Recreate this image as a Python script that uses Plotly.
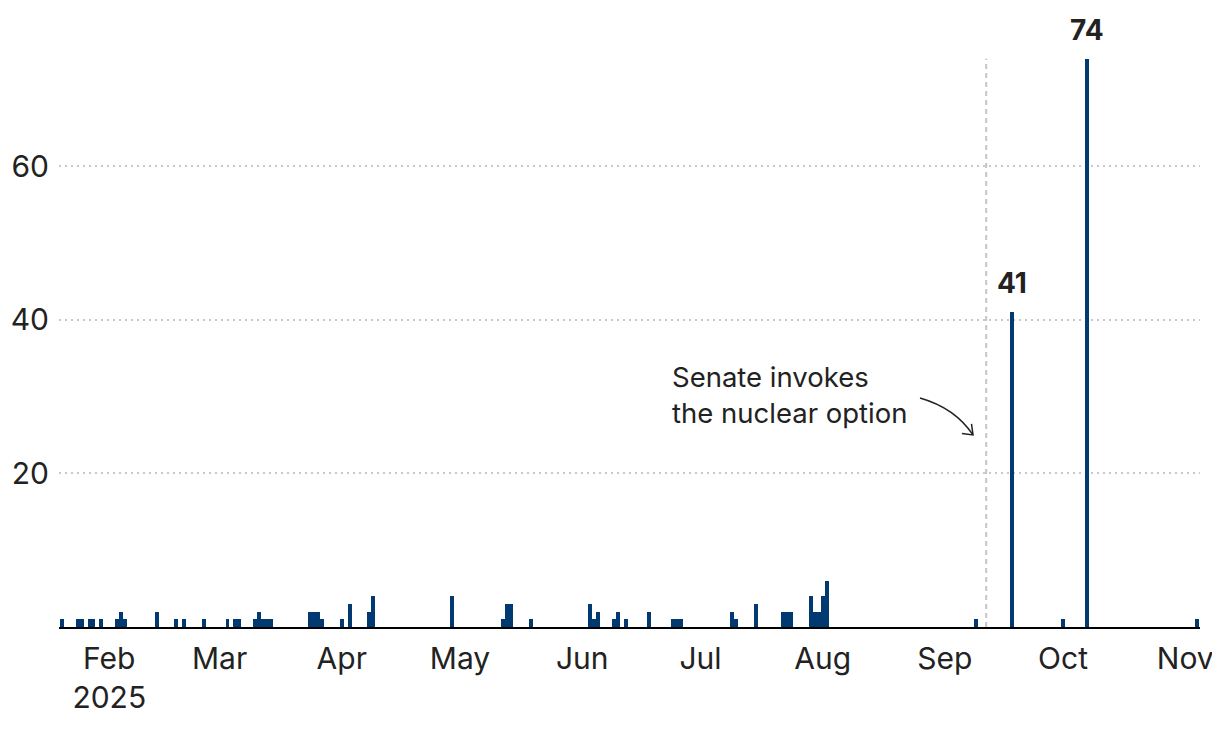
import plotly.graph_objects as go

# ---- data ----
dates = [
    "2025-01-20", "2025-01-24", "2025-01-25", "2025-01-27", "2025-01-28", "2025-01-30",
    "2025-02-03", "2025-02-04", "2025-02-05", "2025-02-13", "2025-02-18", "2025-02-20",
    "2025-02-25", "2025-03-03", "2025-03-05", "2025-03-06", "2025-03-10", "2025-03-11",
    "2025-03-12", "2025-03-13", "2025-03-14", "2025-03-24", "2025-03-25", "2025-03-26",
    "2025-03-27", "2025-04-01", "2025-04-03", "2025-04-08", "2025-04-09", "2025-04-29",
    "2025-05-12", "2025-05-13", "2025-05-14", "2025-05-19", "2025-06-03", "2025-06-04",
    "2025-06-05", "2025-06-09", "2025-06-10", "2025-06-12", "2025-06-18", "2025-06-24",
    "2025-06-25", "2025-06-26", "2025-07-09", "2025-07-10", "2025-07-15", "2025-07-22",
    "2025-07-23", "2025-07-24", "2025-07-29", "2025-07-30", "2025-07-31", "2025-08-01",
    "2025-08-02", "2025-09-09", "2025-09-18", "2025-10-01", "2025-10-07", "2025-11-04",
]
counts = [
    1, 1, 1, 1, 1, 1,
    1, 2, 1, 2, 1, 1,
    1, 1, 1, 1, 1, 2,
    1, 1, 1, 2, 2, 2,
    1, 1, 3, 2, 4, 4,
    1, 3, 3, 1, 3, 1,
    2, 1, 2, 1, 2, 1,
    1, 1, 2, 1, 3, 2,
    2, 2, 4, 2, 2, 4,
    6, 1, 41, 1, 74, 1,
]
labelled_dates = ["2025-09-18", "2025-10-07"]
labelled_values = [41, 74]

tick_dates = ["2025-02-01", "2025-03-01", "2025-04-01", "2025-05-01", "2025-06-01",
              "2025-07-01", "2025-08-01", "2025-09-01", "2025-10-01", "2025-11-01"]
tick_labels = ["Feb<br>2025", "Mar", "Apr", "May", "Jun", "Jul", "Aug", "Sep", "Oct", "Nov"]
y_ticks = [20, 40, 60]

event_date = "2025-09-11 12:00"
event_text = "Senate invokes<br>the nuclear option"

# ---- layout geometry (screen coordinates; page body adds an 8px offset) ----
OFF = 8
W, H = 1220, 732
PLOT_L, PLOT_R, PLOT_T, PLOT_B = 59, 1200, 50.7, 627.3
ML = PLOT_L - OFF
MR = W - (PLOT_R - OFF)
MT = PLOT_T - OFF
MB = H - (PLOT_B - OFF)
PW = PLOT_R - PLOT_L
PH = PLOT_B - PLOT_T

def px(x):
    return (x - PLOT_L) / PW

def py(y):
    return (PLOT_B - y) / PH

FONT = "Inter, Noto Sans, sans-serif"
TXT = "#222222"
BAR = "#003A70"

fig = go.Figure()
fig.add_trace(go.Bar(
    x=dates, y=counts,
    width=86400000,
    marker=dict(color=BAR, line=dict(width=0)),
    hoverinfo="x+y",
))

for d, v in zip(labelled_dates, labelled_values):
    fig.add_annotation(x=d, y=v, text=f"<b>{v}</b>", showarrow=False,
                       yanchor="bottom", yshift=10,
                       font=dict(family=FONT, size=28, color=TXT))

# dashed event line
fig.add_shape(type="line", xref="x", yref="y", x0=event_date, x1=event_date,
              y0=0, y1=max(counts), line=dict(color="#C4C4C4", width=2, dash="5px,4px"),
              layer="below")

fig.add_annotation(xref="paper", yref="paper", x=px(670), y=py(358),
                   xanchor="left", yanchor="top", align="left",
                   text=event_text, showarrow=False,
                   font=dict(family=FONT, size=27.5, color=TXT))

# curved arrow
p0 = (920, 398); c = (955, 408); p2 = (973, 435)
fig.add_shape(type="path", xref="paper", yref="paper",
              path=f"M {px(p0[0])},{py(p0[1])} Q {px(c[0])},{py(c[1])} {px(p2[0])},{py(p2[1])}",
              line=dict(color=TXT, width=1.5))
fig.add_shape(type="path", xref="paper", yref="paper",
              path=f"M {px(962)},{py(433.5)} L {px(973)},{py(435)} L {px(971.5)},{py(424)}",
              line=dict(color=TXT, width=1.5))

fig.update_layout(
    width=W, height=H,
    margin=dict(l=ML, r=MR, t=MT, b=MB),
    plot_bgcolor="white", paper_bgcolor="white",
    bargap=0, showlegend=False,
    font=dict(family=FONT, color=TXT),
    xaxis=dict(
        type="date",
        range=["2025-01-19 06:00", "2025-11-04 18:00"],
        tickvals=tick_dates, ticktext=tick_labels,
        tickfont=dict(family=FONT, size=30, color=TXT),
        showgrid=False, zeroline=False,
        showline=True, linecolor="#000000", linewidth=2,
        ticks="", ticklabelstandoff=4, automargin=False,
    ),
    yaxis=dict(
        range=[0, 75],
        tickvals=y_ticks,
        tickfont=dict(family=FONT, size=30, color=TXT),
        showgrid=True, gridcolor="#C8C8C8", griddash="2px,4px", gridwidth=1.5,
        zeroline=False, showline=False, ticks="",
        ticklabelstandoff=9, automargin=False,
    ),
)

fig.write_html("out.html")
